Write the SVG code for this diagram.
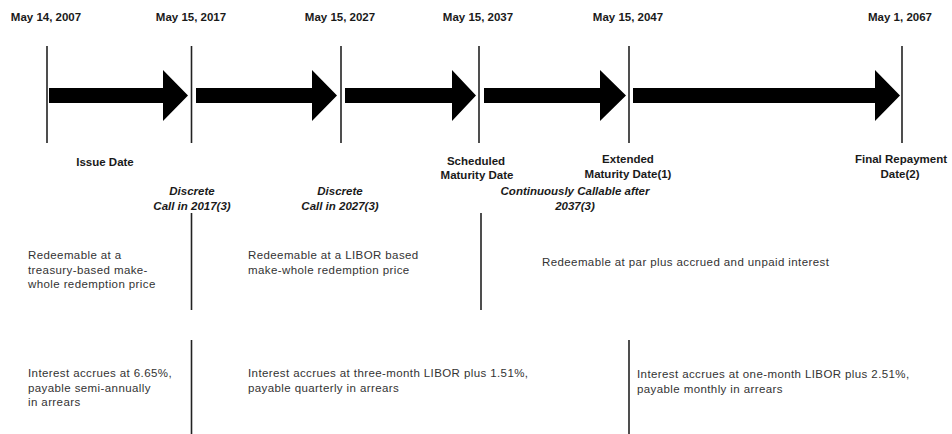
<svg xmlns="http://www.w3.org/2000/svg" width="952" height="434" viewBox="0 0 952 434">
<style>
.bg{fill:#fff}
.vl{stroke:#222;stroke-width:1.6;fill:none}
.arr{fill:#000}
.date{font-family:"Liberation Sans",Arial,sans-serif;font-size:11.5px;font-weight:bold;fill:#1a1a1a;text-anchor:middle}
.lbl{font-family:"Liberation Sans",Arial,sans-serif;font-size:11.5px;font-weight:bold;fill:#1a1a1a;text-anchor:middle}
.call{font-family:"Liberation Sans",Arial,sans-serif;font-size:11.5px;font-weight:bold;font-style:italic;fill:#1a1a1a;text-anchor:middle}
.txt{font-family:"Liberation Sans",Arial,sans-serif;font-size:11.5px;letter-spacing:0.4px;fill:#333}
</style>
<rect class="bg" x="0" y="0" width="952" height="434"/>
<g id="connectors">
  <line class="vl" x1="47" y1="46" x2="47" y2="143"/>
  <line class="vl" x1="191.5" y1="46" x2="191.5" y2="143"/>
  <line class="vl" x1="341" y1="46" x2="341" y2="143"/>
  <line class="vl" x1="479" y1="46" x2="479" y2="143"/>
  <line class="vl" x1="629" y1="46" x2="629" y2="143"/>
  <line class="vl" x1="902" y1="46" x2="902" y2="143"/>
  <line class="vl" x1="191.5" y1="213" x2="191.5" y2="310"/>
  <line class="vl" x1="481" y1="213" x2="481" y2="310"/>
  <line class="vl" x1="191.5" y1="340" x2="191.5" y2="434"/>
  <line class="vl" x1="629" y1="340" x2="629" y2="434"/>
  <polygon id="arrow1" class="arr" points="49,88 163,88 163,70 188,95.5 163,121 163,103 49,103"/>
  <polygon id="arrow2" class="arr" points="196,88 312,88 312,70 337,95.5 312,121 312,103 196,103"/>
  <polygon id="arrow3" class="arr" points="345,88 452,88 452,70 476,95.5 452,121 452,103 345,103"/>
  <polygon id="arrow4" class="arr" points="484,88 600,88 600,70 626,95.5 600,121 600,103 484,103"/>
  <polygon id="arrow5" class="arr" points="633,88 875,88 875,70 900,95.5 875,121 875,103 633,103"/>
</g>
<g id="date-2007"><text class="date" x="46" y="21">May 14, 2007</text><text class="lbl" x="105" y="166">Issue Date</text></g>
<g id="date-2017"><text class="date" x="191" y="21">May 15, 2017</text><text class="call" x="192" y="195">Discrete</text><text class="call" x="192" y="210">Call in 2017(3)</text></g>
<g id="date-2027"><text class="date" x="340" y="21">May 15, 2027</text><text class="call" x="340" y="195">Discrete</text><text class="call" x="340" y="210">Call in 2027(3)</text></g>
<g id="date-2037"><text class="date" x="478" y="21">May 15, 2037</text><text class="lbl" x="476" y="165">Scheduled</text><text class="lbl" x="477" y="179">Maturity Date</text></g>
<g id="callable"><text class="call" x="575" y="195">Continuously Callable after</text><text class="call" x="575" y="210">2037(3)</text></g>
<g id="date-2047"><text class="date" x="628" y="21">May 15, 2047</text><text class="lbl" x="628" y="163">Extended</text><text class="lbl" x="628" y="178">Maturity Date(1)</text></g>
<g id="date-2067"><text class="date" x="900" y="21">May 1, 2067</text><text class="lbl" x="901" y="163">Final Repayment</text><text class="lbl" x="900" y="178">Date(2)</text></g>
<g id="redeem-1"><text class="txt" x="28" y="259">Redeemable at a</text><text class="txt" x="28" y="273.5">treasury-based make-</text><text class="txt" x="28" y="288">whole redemption price</text></g>
<g id="redeem-2"><text class="txt" x="248" y="259">Redeemable at a LIBOR based</text><text class="txt" x="248" y="274">make-whole redemption price</text></g>
<g id="redeem-3"><text class="txt" x="542" y="266">Redeemable at par plus accrued and unpaid interest</text></g>
<g id="interest-1"><text class="txt" x="28" y="377">Interest accrues at 6.65%,</text><text class="txt" x="28" y="392">payable semi-annually</text><text class="txt" x="28" y="406">in arrears</text></g>
<g id="interest-2"><text class="txt" x="248" y="377">Interest accrues at three-month LIBOR plus 1.51%,</text><text class="txt" x="248" y="392">payable quarterly in arrears</text></g>
<g id="interest-3"><text class="txt" x="637" y="378">Interest accrues at one-month LIBOR plus 2.51%,</text><text class="txt" x="637" y="393">payable monthly in arrears</text></g>
</svg>
